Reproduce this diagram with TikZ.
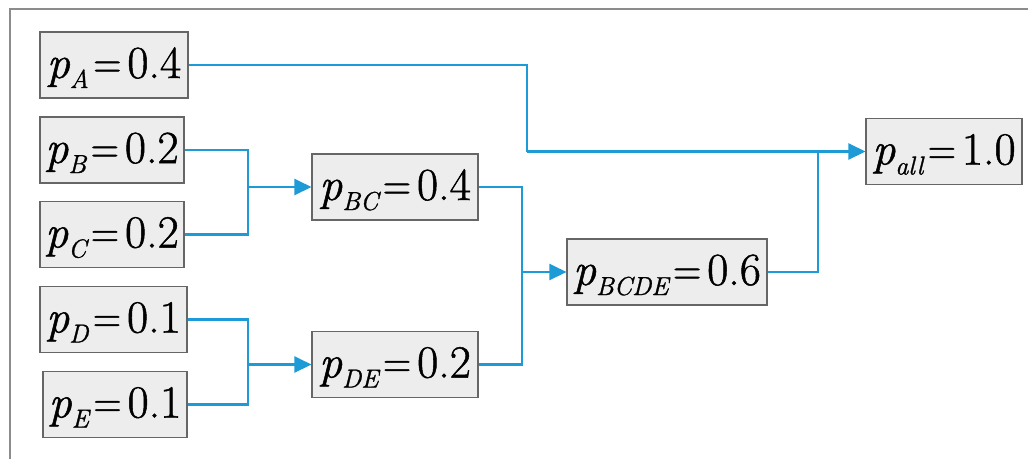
\documentclass[tikz,border=0pt]{standalone}
\usepackage{fontspec}
\newfontfamily\labelfont{Latin Modern Roman}[FakeBold=1.1]
\usetikzlibrary{arrows.meta}

% probability label: italic p, lowered subscript, "=", value
\newcommand\probtext[2]{\textit{p}\raisebox{-10pt}{\fontsize{26}{26}\selectfont\itshape #1}\kern4.5pt\scalebox{0.85}[1]{=}\kern6pt#2}

\begin{document}
\begin{tikzpicture}[x=1pt,y=-1pt,
  pbox/.style={draw=black!60, fill=black!7, line width=1.1pt, inner xsep=1pt, inner ysep=0pt,
    minimum height=66pt, text height=33pt, text depth=7pt,
    font=\labelfont\fontsize{46}{46}\selectfont},
  conn/.style={draw={rgb,255:red,30;green,155;blue,215}, line width=2.4pt},
  arr/.style={conn, -{Triangle[length=17pt,width=16pt]}}
]
\useasboundingbox (0,0) rectangle (1028,459);
\draw[black!45, line width=1.5pt] (10,459) -- (10,9) -- (1028,9);

\node[pbox, minimum width=148pt] (pA) at (114,65) {\probtext{A}{0.4}};
\node[pbox, minimum width=144pt] (pB) at (112,150) {\probtext{B}{0.2}};
\node[pbox, minimum width=144pt] (pC) at (112,234.5) {\probtext{C}{0.2}};
\node[pbox, minimum width=147pt] (pD) at (113.5,319.5) {\probtext{D}{0.1}};
\node[pbox, minimum width=144pt] (pE) at (115,404.5) {\probtext{E}{0.1}};
\node[pbox, minimum width=166pt] (pBC) at (395,187) {\probtext{BC}{0.4}};
\node[pbox, minimum width=166pt] (pDE) at (395,364.5) {\probtext{DE}{0.2}};
\node[pbox, minimum width=200pt] (pBCDE) at (667,272) {\probtext{BCDE}{0.6}};
\node[pbox, minimum width=156pt] (pall) at (944,151.5) {\probtext{all}{1.0}};

\coordinate (jBC) at (248,187);
\coordinate (jDE) at (248,364.5);
\coordinate (jX) at (522,272);
\coordinate (jA) at (527,151.5);
\coordinate (jall) at (818,151.5);

\draw[conn] (pB.east) -| (jBC) |- (pC.east);
\draw[arr] (jBC) -- (pBC.west);
\draw[conn] (pD.east) -| (jDE) |- (pE.east);
\draw[arr] (jDE) -- (pDE.west);
\draw[conn] (pBC.east) -| (jX) |- (pDE.east);
\draw[arr] (jX) -- (pBCDE.west);
\draw[conn] (pA.east) -| (jA);
\draw[arr] (jA) -- (pall.west);
\draw[conn] (pBCDE.east) -| (jall);
\end{tikzpicture}
\end{document}
